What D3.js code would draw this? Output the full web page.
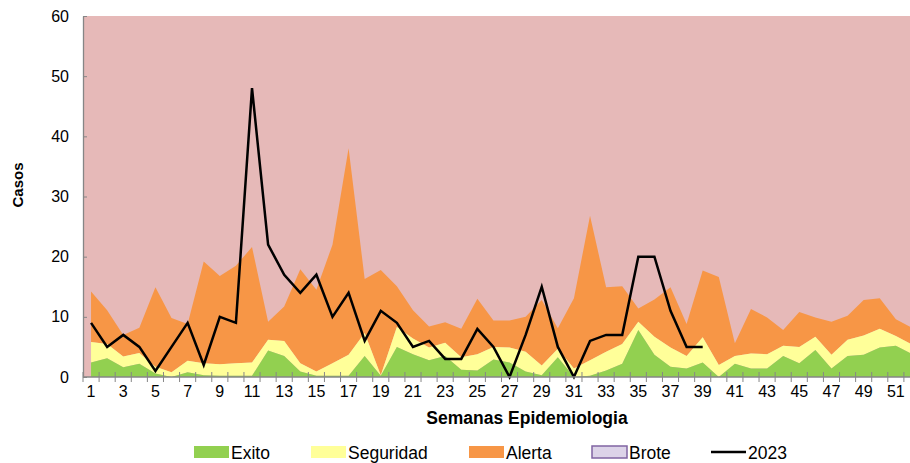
<!DOCTYPE html>
<html>
<head>
<meta charset="utf-8">
<script src="https://cdnjs.cloudflare.com/ajax/libs/d3/7.8.5/d3.min.js"></script>
<style>
  body { margin: 0; background: #fff; }
  text { font-family: "Liberation Sans", Arial, sans-serif; }
</style>
</head>
<body>
<svg id="chart" width="910" height="463"></svg>
<script>
// semanas epidemiologicas 1..52
const semanas = d3.range(1, 53);

// limites superiores de cada zona del canal endemico
const exito = [2.4, 3.1, 1.6, 2.2, 0.6, 0.0, 0.8, 0.3, 0.2, 0.2, 0.2, 4.4, 3.5, 0.9, 0.2, 0.2, 0.2, 3.5, 0.2, 5.0,
               3.8, 2.8, 3.5, 1.2, 1.1, 2.9, 2.4, 0.9, 0.3, 3.3, 0.0, 0.2, 1.1, 2.2, 7.8, 3.7, 1.7, 1.4, 2.4, 0.0,
               2.2, 1.4, 1.4, 3.5, 2.3, 4.5, 1.4, 3.5, 3.7, 4.9, 5.2, 3.8];
const seguridad = [5.8, 5.5, 3.4, 4.0, 1.7, 0.8, 2.7, 2.3, 2.1, 2.3, 2.4, 6.2, 6.0, 2.3, 0.9, 2.3, 3.7, 7.3, 0.3, 8.3,
                   6.4, 4.9, 5.7, 3.3, 3.8, 5.0, 4.9, 4.2, 1.9, 4.7, 1.4, 2.8, 4.2, 5.5, 9.2, 6.7, 4.9, 3.5, 6.6, 2.0,
                   3.5, 3.9, 3.8, 5.2, 5.0, 6.7, 3.7, 6.2, 6.9, 8.0, 6.8, 5.4];
const alerta = [14.2, 11.1, 7.0, 8.2, 14.9, 9.8, 8.8, 19.2, 16.8, 18.5, 21.6, 9.2, 11.7, 17.9, 14.5, 22.0, 38.0, 16.3, 17.8, 15.1,
                11.1, 8.4, 9.1, 8.0, 13.0, 9.4, 9.4, 10.0, 12.8, 8.1, 13.1, 26.8, 14.9, 15.1, 11.4, 12.9, 14.9, 8.8, 17.7, 16.6,
                5.6, 11.3, 9.9, 7.8, 10.8, 9.9, 9.2, 10.2, 12.8, 13.1, 9.6, 8.2];

// casos notificados 2023 (hasta semana 39)
const casos2023 = [9, 5, 7, 5, 1, 5, 9, 2, 10, 9, 48, 22, 17, 14, 17, 10, 14, 6, 11, 9,
                   5, 6, 3, 3, 8, 5, 0, 7, 15, 5, 0, 6, 7, 7, 20, 20, 11, 5, 5];

const yTicks = [0, 10, 20, 30, 40, 50, 60];
const xLabels = semanas.filter(d => d % 2 === 1);

const colors = {
  fondo: '#E6B9B8',
  exito: '#92D050',
  seguridad: '#FFFF99',
  alerta: '#F79646',
  brote: '#DCD3E8',
  broteBorde: '#8064A2',
  eje: '#868686'
};

const svg = d3.select('#chart');
const margin = {top: 16, left: 83, bottom: 377};
const plotRight = 920;

const x = d3.scaleBand().domain(semanas).range([margin.left, plotRight]);
const xc = d => x(d) + x.bandwidth() / 2;
const y = d3.scaleLinear().domain([0, 60]).range([margin.bottom, margin.top]);

// fondo del area de grafico (zona de brote)
svg.append('rect')
    .attr('x', margin.left).attr('y', margin.top)
    .attr('width', plotRight - margin.left).attr('height', margin.bottom - margin.top)
    .attr('fill', colors.fondo);

const zonas = [
  {key: 'alerta', lo: seguridad, hi: alerta},
  {key: 'seguridad', lo: exito, hi: seguridad},
  {key: 'exito', lo: semanas.map(() => 0), hi: exito}
];

zonas.forEach(function(z) {
  const area = d3.area()
      .x(function(d, i) { return xc(semanas[i]); })
      .y0(function(d, i) { return y(z.lo[i]); })
      .y1(function(d, i) { return y(z.hi[i]); });
  svg.append('path')
      .datum(semanas)
      .attr('fill', colors[z.key])
      .attr('d', area);
});

// linea 2023
const line = d3.line()
    .x(function(d, i) { return xc(semanas[i]); })
    .y(function(d) { return y(d); });

svg.append('path')
    .datum(casos2023)
    .attr('fill', 'none')
    .attr('stroke', '#000')
    .attr('stroke-width', 2.5)
    .attr('stroke-linejoin', 'miter')
    .attr('d', line);

// eje Y
const yAxis = svg.append('g')
    .attr('transform', 'translate(' + margin.left + ',0)')
    .call(d3.axisLeft(y).tickValues(yTicks).tickSize(-4).tickPadding(14).tickSizeOuter(0));
yAxis.select('.domain').attr('stroke', colors.eje).attr('stroke-width', 1.3);
yAxis.selectAll('.tick line').attr('stroke', colors.eje);
yAxis.selectAll('.tick text').attr('font-size', 16).attr('fill', '#000');

// eje X
const xAxis = svg.append('g')
    .attr('transform', 'translate(0,' + margin.bottom + ')');
xAxis.append('line')
    .attr('x1', margin.left).attr('x2', plotRight)
    .attr('stroke', colors.eje).attr('stroke-width', 1.3);
xAxis.selectAll('.tk')
    .data(semanas)
    .enter().append('line')
    .attr('x1', d => x(d)).attr('x2', d => x(d))
    .attr('y1', -5).attr('y2', 5)
    .attr('stroke', colors.eje);
xAxis.selectAll('.lbl')
    .data(xLabels)
    .enter().append('text')
    .attr('x', d => xc(d))
    .attr('y', 20)
    .attr('text-anchor', 'middle')
    .attr('font-size', 16)
    .text(d => d);

// titulos de ejes
svg.append('text')
    .attr('transform', 'translate(23,185) rotate(-90)')
    .attr('text-anchor', 'middle')
    .attr('font-size', 15).attr('font-weight', 'bold')
    .text('Casos');

svg.append('text')
    .attr('x', 527).attr('y', 424)
    .attr('text-anchor', 'middle')
    .attr('font-size', 17.5).attr('font-weight', 'bold')
    .text('Semanas Epidemiologia');

// leyenda
const leyenda = [
  {label: 'Exito', x: 194, fill: colors.exito},
  {label: 'Seguridad', x: 311, fill: colors.seguridad},
  {label: 'Alerta', x: 469, fill: colors.alerta},
  {label: 'Brote', x: 592, fill: colors.brote, stroke: colors.broteBorde},
  {label: '2023', x: 711, line: true}
];
const ly = 452;
leyenda.forEach(function(l) {
  if (l.line) {
    svg.append('line')
        .attr('x1', l.x).attr('x2', l.x + 35)
        .attr('y1', ly).attr('y2', ly)
        .attr('stroke', '#000').attr('stroke-width', 2.5);
  } else {
    svg.append('rect')
        .attr('x', l.x).attr('y', ly - 6)
        .attr('width', 35).attr('height', 12)
        .attr('fill', l.fill)
        .attr('stroke', l.stroke || 'none')
        .attr('stroke-width', 1.5);
  }
  svg.append('text')
      .attr('x', l.x + 37).attr('y', ly + 6.5)
      .attr('font-size', 17.5)
      .text(l.label);
});
</script>
</body>
</html>
